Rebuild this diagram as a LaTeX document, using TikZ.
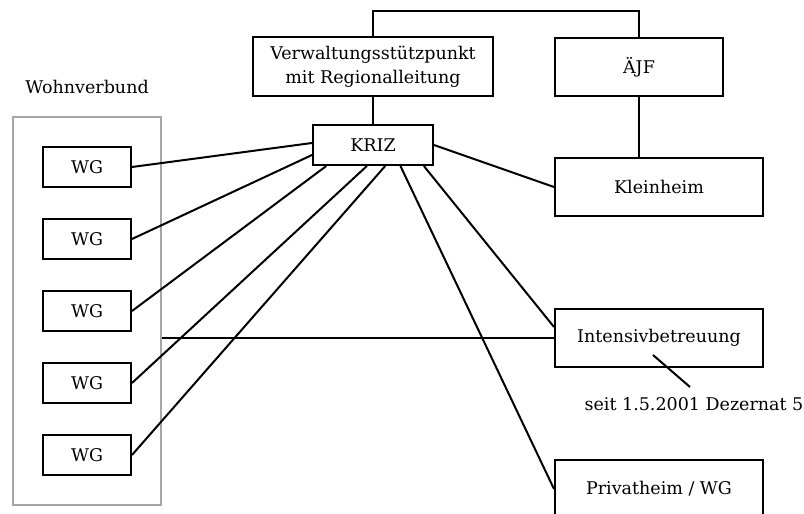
\documentclass[tikz,border=0pt]{standalone}
\usepackage{fontspec}
\setmainfont{DejaVu Serif}
\usetikzlibrary{calc}

\begin{document}
\begin{tikzpicture}[x=1pt,y=-1pt,
    box/.style={draw,line width=2pt,inner sep=0pt,align=center,
      font=\fontsize{17.5}{24}\selectfont},
    link/.style={line width=2pt}]
        % Rahmen des Bildes
        \useasboundingbox (0,0) rectangle (804,514);

        % Wohnverbund
        \node[draw=black!35,line width=2pt,minimum width=148pt,minimum height=388pt] (wv) at (87,311) {};
        \node[font=\fontsize{17.5}{24}\selectfont] (wvlabel) at (87,87) {Wohnverbund};
        \foreach \i in {1,...,5}
        {
            \node[box,minimum width=88pt,minimum height=40pt] (wg\i) at (87,95+72*\i) {WG};
        }

        % Leitung
        \node[box,minimum width=240pt,minimum height=59pt] (verw) at (373,66.5) {Verwaltungsstützpunkt\\mit Regionalleitung};
        \node[box,minimum width=168pt,minimum height=58pt] (ajf) at (639,67) {ÄJF};
        \node[box,minimum width=120pt,minimum height=40pt] (kriz) at (373,145) {KRIZ};

        % Einrichtungen rechts
        \node[box,minimum width=208pt,minimum height=58pt] (klein) at (659,187) {Kleinheim};
        \node[box,minimum width=208pt,minimum height=58pt] (intens) at (659,338) {Intensivbetreuung};
        \node[box,minimum width=208pt,minimum height=58pt] (priv) at (659,489) {Privatheim / WG};

        % Anmerkung
        \node[font=\fontsize{17.5}{24}\selectfont] (note) at (694,404) {seit 1.5.2001 Dezernat 5};
        \coordinate (noteA) at (653,355);
        \coordinate (noteB) at (690,387);
        \draw[link] (noteA) -- (noteB);

        % Verbindungen oben
        \draw[link] (verw.north) -- ++(0,-25) -| (ajf.north);
        \draw[link] (verw.south) -- (kriz.north);
        \draw[link] (ajf.south) -- (ajf.south |- klein.north);
        \draw[link] (kriz.east) -- (klein.west);

        % Verbindungen KRIZ - WG
        \draw[link] (wg1.east) -- ($(kriz.west)+(0,-2)$);
        \draw[link] (wg2.east) -- ($(kriz.west)+(0,10)$);
        \foreach \i/\f in {3/0.117, 4/0.45, 5/0.6}
        {
            \draw[link] (wg\i.east) -- ($(kriz.south west)!\f!(kriz.south east)$);
        }

        % Verbindungen KRIZ - rechts
        \draw[link] ($(kriz.south west)!0.917!(kriz.south east)$) -- ($(intens.west)+(0,-11)$);
        \draw[link] ($(kriz.south west)!0.725!(kriz.south east)$) -- (priv.west);
        \draw[link] (intens.west -| wv.east) -- (intens.west);
\end{tikzpicture}
\end{document}
